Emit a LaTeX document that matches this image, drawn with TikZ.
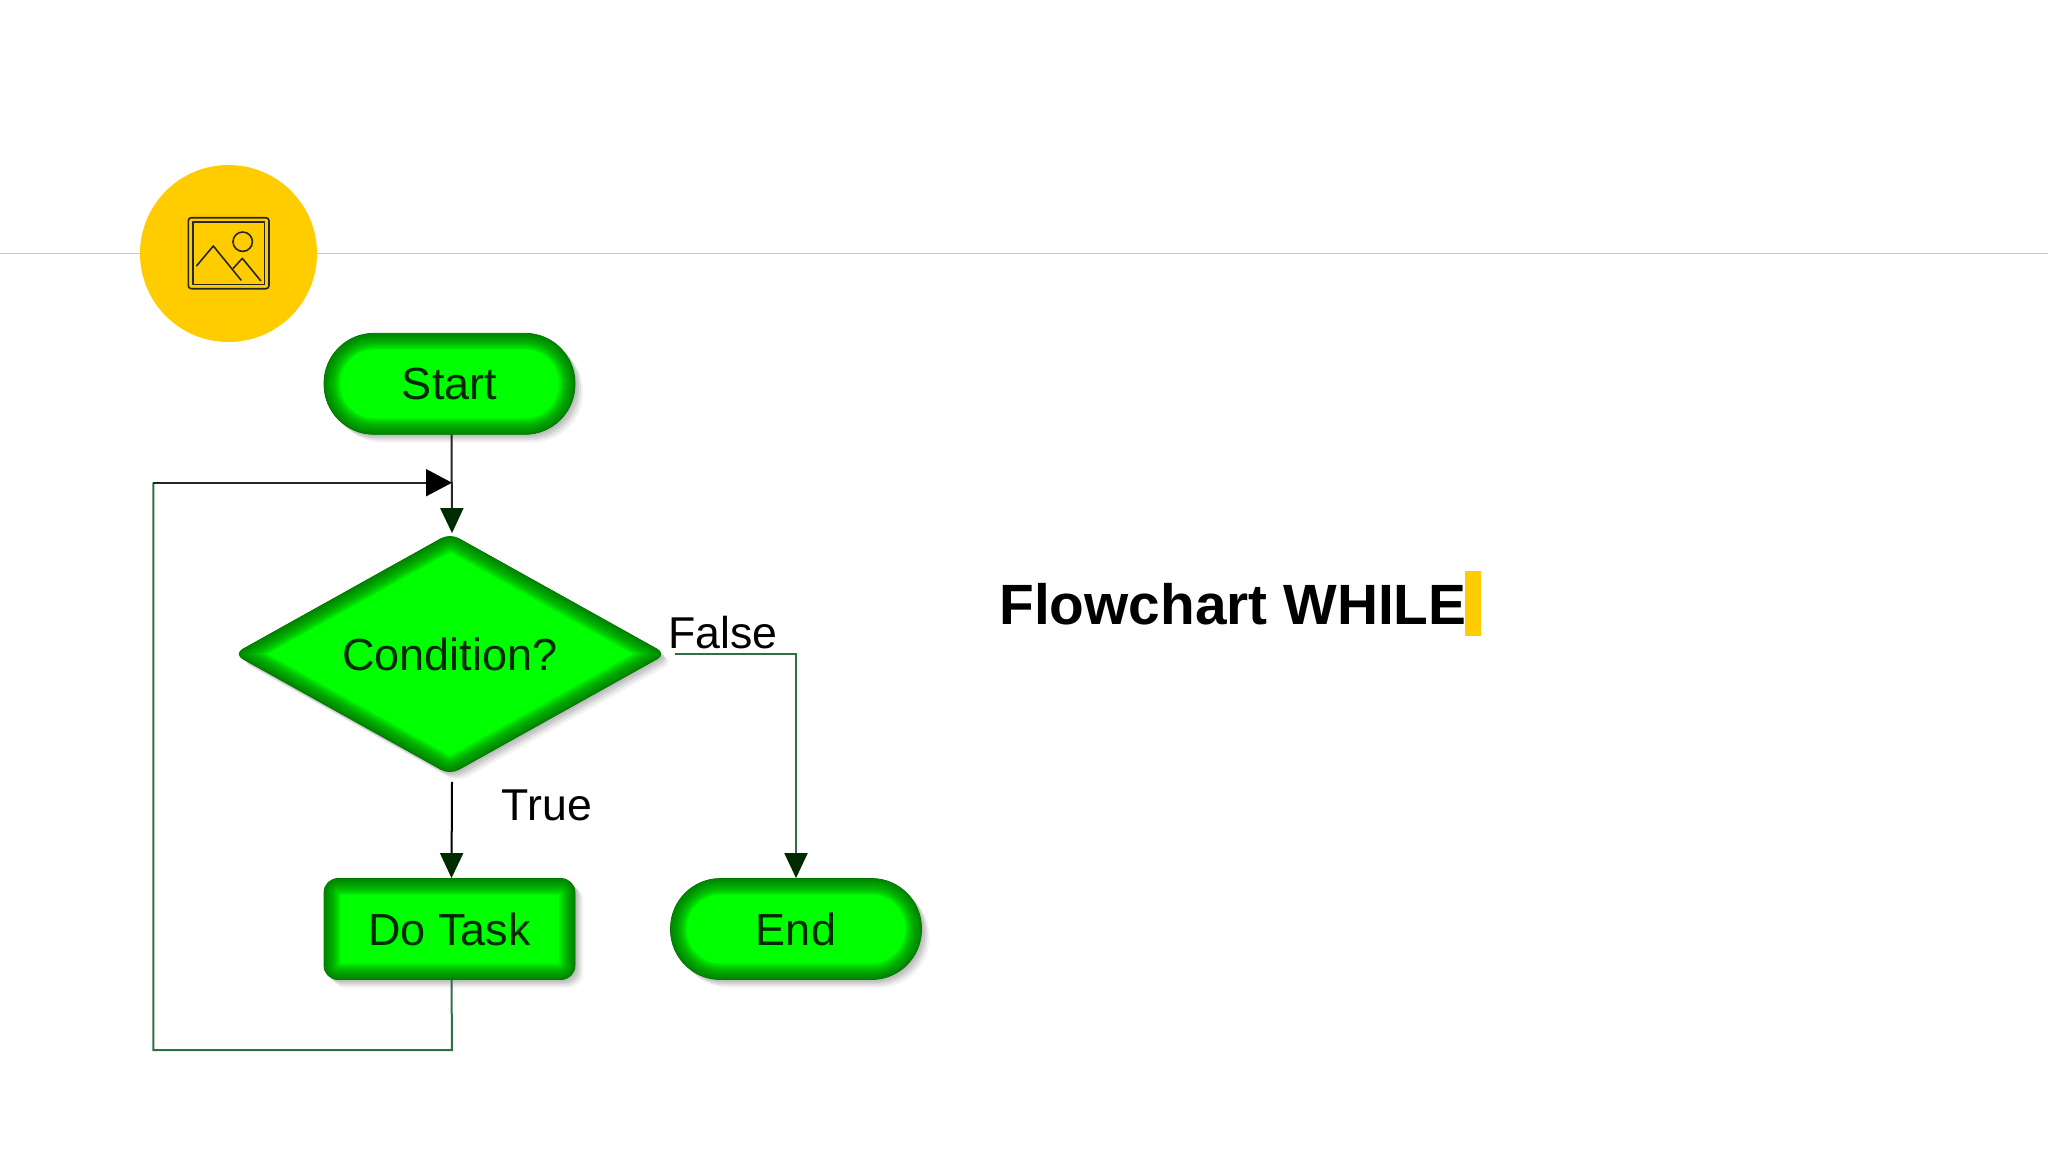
\documentclass[tikz,border=0pt]{standalone}
\usepackage{fontspec}
\setmainfont{Liberation Sans}
\usetikzlibrary{arrows.meta,shapes.geometric,shadows}

\definecolor{badgeyellow}{HTML}{FFCC00}
\definecolor{rulegrey}{HTML}{C8C8C8}
\definecolor{bright}{HTML}{00FF00}
\definecolor{edgegreen}{HTML}{006000}
\definecolor{linegreen}{HTML}{2F6F45}
\definecolor{inkgreen}{HTML}{002A00}

\tikzset{
	softshadow/.style={
		general shadow={shadow xshift=1pt, shadow yshift=-1pt, fill=black, opacity=.07},
		general shadow={shadow xshift=2pt, shadow yshift=-2pt, fill=black, opacity=.09},
		general shadow={shadow xshift=3pt, shadow yshift=-3pt, fill=black, opacity=.07},
		general shadow={shadow xshift=4pt, shadow yshift=-4pt, fill=black, opacity=.05}},
	boxbase/.style={softshadow, fill=bright, draw=edgegreen!85!bright, line width=.4pt, text=inkgreen, font=\fontsize{22.5}{24}\selectfont, inner sep=0pt},
	bevelbox/.style={rectangle, boxbase, rounded corners=#1, minimum width=125.5pt, minimum height=50.5pt,
		path picture={
			\foreach \w in {2,4,6,8,10,12,14,16}
				\draw[edgegreen, line width=\w pt, opacity=.15, rounded corners=#1] (path picture bounding box.south west) rectangle (path picture bounding box.north east);
		}},
	bevelcond/.style={diamond, boxbase, aspect=1.78, rounded corners=5pt, minimum width=216pt, minimum height=120.5pt,
		path picture={
			\foreach \w in {2,4,6,8,10,12,14,16}
				\draw[edgegreen, line width=\w pt, opacity=.15, rounded corners=5pt] (path picture bounding box.north) -- (path picture bounding box.east) -- (path picture bounding box.south) -- (path picture bounding box.west) -- cycle;
		}},
	flow/.style={line width=1pt, -{Triangle[length=12.5pt,width=11.5pt,color=inkgreen]}},
	iconline/.style={draw=black!85, line width=.8pt, line cap=round, line join=round},
	branch/.style={font=\fontsize{22.3}{24}\selectfont, text=black, inner sep=0pt}
}

\begin{document}
\begin{tikzpicture}[x=0.5pt, y=-0.5pt]
	\useasboundingbox (0,0) rectangle (2048,1152);

	% rule and badge
	\draw[rulegrey, line width=.75pt] (0,253.3) -- (2048,253.3);
	\node[circle, fill=badgeyellow, minimum size=88.5pt, inner sep=0pt] (badge) at (228.5,253.5) {};
	\draw[iconline, rounded corners=1.5pt] (188.3,217.7) rectangle (269,288.7);
	\draw[iconline] (192.7,222) rectangle (264.3,284.3);
	\draw[iconline] (242.7,241.7) circle (9.7);
	\draw[iconline] (196.7,265.7) -- (213.3,246) -- (241,280);
	\draw[iconline] (233.3,268.3) -- (242.3,258.3) -- (260.7,280.7);

	% flowchart nodes
	\node[bevelbox=25pt] (start) at (449.5,383.8) {Start};
	\node[bevelcond] (cond) at (450,654) {Condition?};
	\node[bevelbox=7pt] (task) at (449.5,929) {Do Task};
	\node[bevelbox=25pt] (end) at (796,929) {End};

	\coordinate (join) at (452,482.7);
	\coordinate (loopa) at (452,1050);
	\coordinate (loopb) at (153.3,1050);
	\coordinate (loopc) at (153.3,482.7);

	\draw[flow, black!85] ([xshift=1pt]start.south) -- ([xshift=1pt]cond.north);
	\draw[flow, black] ([xshift=1pt,yshift=-3.5pt]cond.south) -- ([xshift=1pt]task.north);
	\draw[flow, linegreen] ([xshift=4.5pt]cond.east) -| (end.north);
	\draw[linegreen, line width=1pt] ([xshift=1pt]task.south) -- (loopa) -- (loopb) -- (loopc);
	\draw[black!85, line width=1pt, -{Triangle[length=13pt,width=13.5pt,color=black]}] (loopc) -- (join);

	\node[branch] (truelabel) at (547,805) {True};
	\node[branch] (falselabel) at (723,633) {False};

	% title
	\node[anchor=base west, inner sep=0pt, font=\bfseries\fontsize{28.4}{34}\selectfont] (title) at (999,624) {Flowchart WHILE};
	\node[fill=badgeyellow, minimum width=8pt, minimum height=32.3pt, inner sep=0pt] (titlebar) at (1473,603.5) {};
\end{tikzpicture}
\end{document}
